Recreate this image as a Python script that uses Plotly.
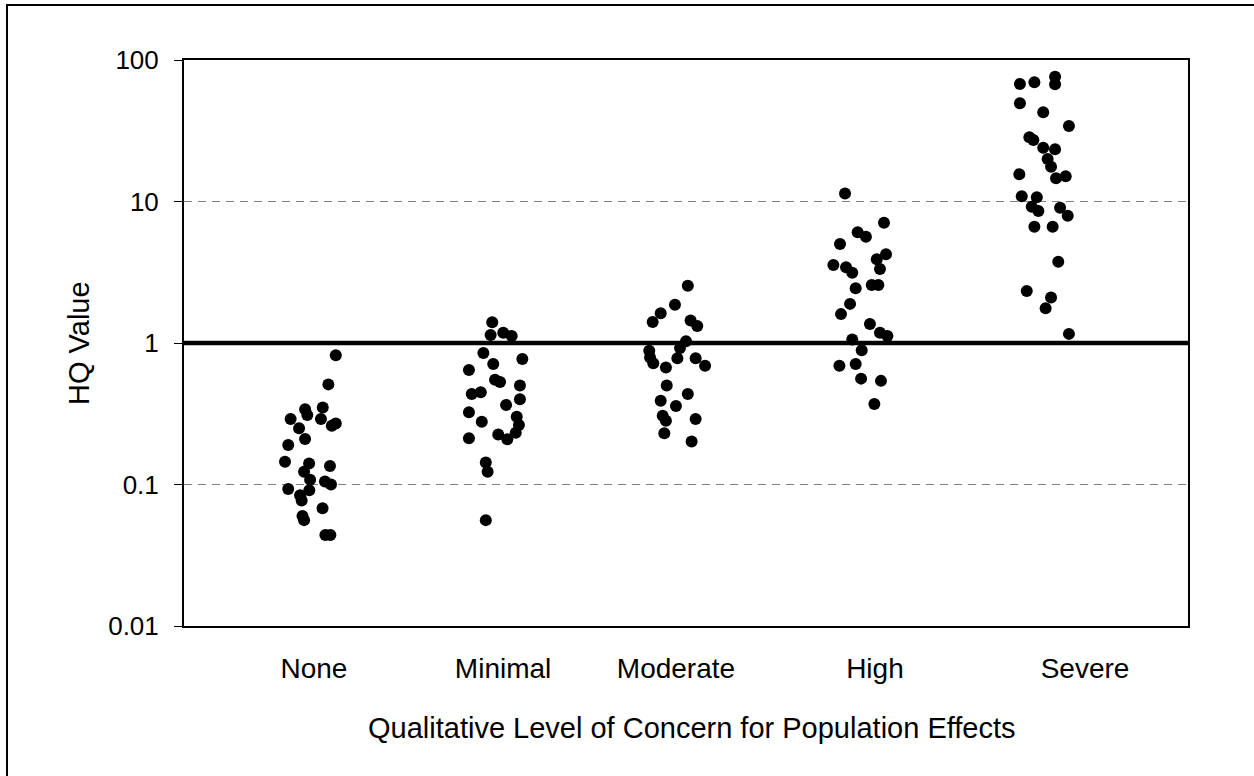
import plotly.graph_objects as go

# Category names and where each label sits along the x axis
categories = ["None", "Minimal", "Moderate", "High", "Severe"]
category_pos = [0.647, 1.589, 2.45, 3.441, 4.487]
x_range = [0, 5]

# HQ values per level of concern, with each point's jittered x position
none_x = [0.756, 0.719, 0.603, 0.614, 0.691, 0.531, 0.573, 0.682, 0.736, 0.756,
          0.603, 0.519, 0.503, 0.623, 0.727, 0.598, 0.628, 0.702, 0.732, 0.519,
          0.578, 0.624, 0.586, 0.690, 0.590, 0.598, 0.704, 0.729]
none_hq = [0.82, 0.51, 0.34, 0.31, 0.35, 0.29, 0.25, 0.29, 0.26, 0.27,
           0.21, 0.19, 0.145, 0.141, 0.135, 0.123, 0.108, 0.105, 0.100, 0.093,
           0.084, 0.091, 0.077, 0.068, 0.060, 0.056, 0.044, 0.044]

minimal_x = [1.535, 1.527, 1.590, 1.632, 1.491, 1.685, 1.419, 1.540, 1.549, 1.574,
             1.673, 1.433, 1.478, 1.673, 1.604, 1.419, 1.483, 1.657, 1.668, 1.565,
             1.610, 1.652, 1.419, 1.503, 1.512, 1.503]
minimal_hq = [1.40, 1.14, 1.18, 1.12, 0.85, 0.77, 0.645, 0.71, 0.55, 0.53,
              0.50, 0.436, 0.448, 0.40, 0.365, 0.324, 0.278, 0.301, 0.263, 0.226,
              0.209, 0.232, 0.212, 0.143, 0.123, 0.056]

moderate_x = [2.509, 2.445, 2.374, 2.334, 2.523, 2.556, 2.500, 2.470, 2.317, 2.321,
              2.337, 2.457, 2.548, 2.595, 2.400, 2.404, 2.509, 2.374, 2.450, 2.384,
              2.400, 2.548, 2.392, 2.528]
moderate_hq = [2.54, 1.86, 1.62, 1.41, 1.44, 1.32, 1.03, 0.92, 0.88, 0.79,
               0.72, 0.78, 0.78, 0.69, 0.67, 0.50, 0.436, 0.391, 0.359, 0.306,
               0.282, 0.290, 0.230, 0.201]

high_x = [3.292, 3.486, 3.355, 3.396, 3.267, 3.496, 3.450, 3.234, 3.297, 3.466,
          3.328, 3.425, 3.458, 3.345, 3.317, 3.272, 3.416, 3.466, 3.503, 3.328,
          3.375, 3.264, 3.345, 3.372, 3.471, 3.438]
high_hq = [11.4, 7.08, 6.06, 5.64, 5.01, 4.24, 3.90, 3.56, 3.43, 3.33,
           3.14, 2.57, 2.57, 2.44, 1.89, 1.60, 1.36, 1.18, 1.12, 1.06,
           0.89, 0.69, 0.71, 0.56, 0.54, 0.37]

severe_x = [4.163, 4.235, 4.338, 4.338, 4.163, 4.279, 4.407, 4.210, 4.230, 4.279,
            4.338, 4.301, 4.318, 4.160, 4.343, 4.391, 4.172, 4.247, 4.222, 4.255,
            4.363, 4.401, 4.235, 4.326, 4.354, 4.197, 4.318, 4.291, 4.407]
severe_hq = [67.7, 69.6, 76.2, 67.3, 49.4, 42.7, 34.2, 28.4, 27.2, 24.0,
             23.4, 20.0, 17.6, 15.6, 14.6, 15.1, 10.9, 10.7, 9.19, 8.57,
             9.04, 7.94, 6.64, 6.64, 3.75, 2.33, 2.10, 1.76, 1.16]

# Reference level drawn as a heavy horizontal line
threshold_hq = 1

y_ticks = [0.01, 0.1, 1, 10, 100]
y_tick_text = ["0.01", "0.1", "1", "10", "100"]

FONT = "Arial, 'Liberation Sans', sans-serif"

groups = [
    (none_x, none_hq),
    (minimal_x, minimal_hq),
    (moderate_x, moderate_hq),
    (high_x, high_hq),
    (severe_x, severe_hq),
]

fig = go.Figure()

# Threshold line first so the dots sit on top of it
fig.add_trace(go.Scatter(
    x=x_range, y=[threshold_hq, threshold_hq], mode="lines",
    line=dict(color="black", width=4.5),
    hoverinfo="skip", showlegend=False,
))

for name, (xs, ys) in zip(categories, groups):
    fig.add_trace(go.Scatter(
        x=xs, y=ys, mode="markers", name=name,
        marker=dict(color="black", size=12, line=dict(width=0)),
        cliponaxis=False,
        showlegend=False,
    ))

# Outer chart frame (right and bottom edges run past the canvas)
fig.add_shape(type="rect", xref="paper", yref="paper",
              x0=-0.1763, x1=1.2, y0=-0.4, y1=1.0972,
              line=dict(color="black", width=2), layer="below")

fig.add_annotation(text="HQ Value", xref="paper", yref="paper",
                   x=-0.1046, y=0.5, textangle=-90, showarrow=False,
                   xanchor="center", yanchor="middle",
                   font=dict(family=FONT, size=29, color="black"))
fig.add_annotation(text="Qualitative Level of Concern for Population Effects",
                   xref="paper", yref="paper", x=0.506, y=-0.180,
                   showarrow=False, xanchor="center", yanchor="middle",
                   font=dict(family=FONT, size=29, color="black"))

fig.update_layout(
    width=1254, height=776,
    margin=dict(l=184, r=66, t=60, b=150),
    paper_bgcolor="white", plot_bgcolor="white",
    font=dict(family=FONT, size=26, color="black"),
    xaxis=dict(
        range=x_range, tickvals=category_pos, ticktext=categories,
        showgrid=False, zeroline=False, showline=True, mirror=True,
        linecolor="black", linewidth=2, ticks="", ticklabelstandoff=16,
        tickfont=dict(family=FONT, size=28, color="black"),
    ),
    yaxis=dict(
        type="log", range=[-2, 2], tickvals=y_ticks, ticktext=y_tick_text,
        showgrid=True, gridcolor="#7f7f7f", gridwidth=1, griddash="8px,6px",
        zeroline=False, showline=True, mirror=True,
        linecolor="black", linewidth=2,
        ticks="outside", ticklen=8, tickwidth=1, tickcolor="black",
        ticklabelstandoff=10,
        tickfont=dict(family=FONT, size=26, color="black"),
    ),
)

fig.write_html("out.html")
